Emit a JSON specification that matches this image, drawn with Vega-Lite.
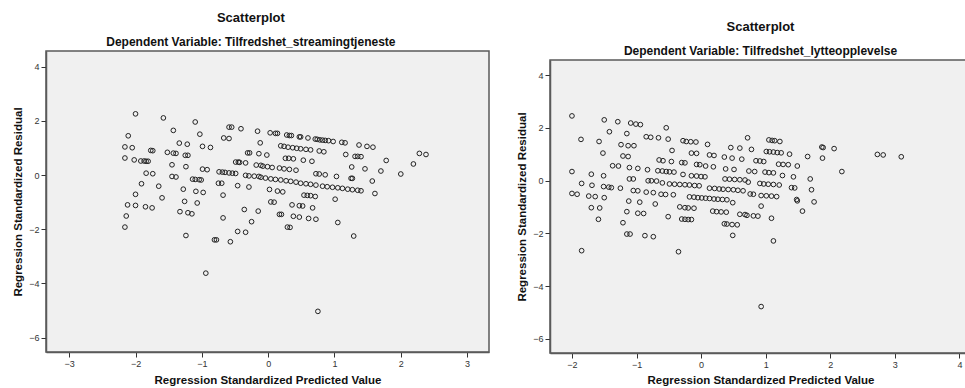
{
  "$schema": "https://vega.github.io/schema/vega-lite/v6.json",
  "padding": {"left": 11, "top": 10, "right": 0, "bottom": 0},
  "background": "white",
  "spacing": 25,
  "config": {
    "font": "Liberation Sans",
    "view": {"fill": "#f0f0f0", "stroke": "#5a5a5a", "strokeWidth": 1.5},
    "axis": {"grid": false, "domainColor": "#5a5a5a", "domainWidth": 1.5, "tickColor": "#333333", "tickSize": 5, "labelPadding": 2, "labelFontSize": 9, "labelColor": "#333333", "titleFontSize": 11.5, "titleFontWeight": "bold", "titleColor": "#111111"},
    "title": {"fontSize": 13, "fontWeight": "bold", "color": "#111111", "subtitleFontSize": 12, "subtitleFontWeight": "bold", "subtitleColor": "#111111", "subtitlePadding": 12, "offset": 3}
  },
  "datasets": {
    "none": [],
    "left": [
      {"x":-2.00,"y":2.26},{"x":-1.58,"y":2.11},{"x":-1.10,"y":1.96},{"x":-2.11,"y":1.45},{"x":-1.43,"y":1.65},{"x":-1.03,"y":1.51},{"x":-0.59,"y":1.77},{"x":-0.55,"y":1.77},{"x":-0.41,"y":1.71},{"x":-0.16,"y":1.62},
      {"x":-0.67,"y":1.37},{"x":-0.59,"y":1.35},{"x":-2.16,"y":1.04},{"x":-2.05,"y":1.01},{"x":-1.34,"y":1.18},{"x":-1.22,"y":1.14},{"x":-0.99,"y":1.06},{"x":-0.87,"y":1.02},{"x":-0.12,"y":1.19},{"x":-1.77,"y":0.91},
      {"x":-1.74,"y":0.90},{"x":-1.52,"y":0.84},{"x":-1.43,"y":0.81},{"x":-1.39,"y":0.80},{"x":-1.25,"y":0.73},{"x":-1.21,"y":0.73},{"x":-2.16,"y":0.63},{"x":-2.02,"y":0.56},{"x":-1.92,"y":0.52},{"x":-1.87,"y":0.52},
      {"x":-1.84,"y":0.51},{"x":-1.81,"y":0.51},{"x":-0.31,"y":0.82},{"x":-0.28,"y":0.82},{"x":-0.14,"y":0.79},{"x":-1.45,"y":0.38},{"x":-1.24,"y":0.31},{"x":-0.49,"y":0.48},{"x":-0.45,"y":0.48},{"x":-0.43,"y":0.47},
      {"x":-0.34,"y":0.45},{"x":-0.18,"y":0.37},{"x":-0.11,"y":0.36},{"x":-0.99,"y":0.22},{"x":-0.92,"y":0.20},{"x":-1.84,"y":0.07},{"x":-1.74,"y":0.05},{"x":-0.74,"y":0.12},{"x":-0.69,"y":0.11},{"x":-0.65,"y":0.10},
      {"x":-0.59,"y":0.08},{"x":-0.54,"y":0.07},{"x":-0.49,"y":0.06},{"x":-1.45,"y":-0.05},{"x":-1.39,"y":-0.07},{"x":-1.14,"y":-0.15},{"x":-1.10,"y":-0.16},{"x":-1.04,"y":-0.17},{"x":-1.01,"y":-0.18},{"x":-0.34,"y":-0.01},
      {"x":-0.29,"y":-0.03},{"x":-0.21,"y":-0.04},{"x":-0.14,"y":-0.05},{"x":-1.91,"y":-0.32},{"x":-1.65,"y":-0.41},{"x":-0.75,"y":-0.30},{"x":-0.70,"y":-0.30},{"x":-0.46,"y":-0.39},{"x":-0.29,"y":-0.44},{"x":-1.28,"y":-0.52},
      {"x":-1.09,"y":-0.60},{"x":-0.98,"y":-0.64},{"x":-2.00,"y":-0.71},{"x":-1.60,"y":-0.84},{"x":-0.68,"y":-0.74},{"x":-1.26,"y":-0.97},{"x":-1.07,"y":-1.03},{"x":-2.12,"y":-1.10},{"x":-2.00,"y":-1.12},{"x":-1.85,"y":-1.17},
      {"x":-1.75,"y":-1.21},{"x":-0.36,"y":-1.27},{"x":-0.15,"y":-1.33},{"x":-1.33,"y":-1.35},{"x":-1.21,"y":-1.39},{"x":-1.15,"y":-1.43},{"x":-2.14,"y":-1.51},{"x":-0.68,"y":-1.58},{"x":-0.25,"y":-1.72},{"x":-2.16,"y":-1.92},
      {"x":-0.46,"y":-2.08},{"x":-0.34,"y":-2.11},{"x":-1.24,"y":-2.23},{"x":-0.81,"y":-2.39},{"x":-0.78,"y":-2.39},{"x":-0.57,"y":-2.46},{"x":-0.94,"y":-3.62},{"x":0.75,"y":-5.03},{"x":1.29,"y":-2.25},{"x":1.05,"y":-1.75},
      {"x":0.72,"y":-1.63},{"x":0.61,"y":-1.60},{"x":0.47,"y":-1.55},{"x":0.38,"y":-1.52},{"x":0.20,"y":-1.45},{"x":0.17,"y":-1.45},{"x":0.33,"y":-1.93},{"x":0.29,"y":-1.92},{"x":0.67,"y":-1.21},{"x":0.52,"y":-1.14},
      {"x":0.47,"y":-1.13},{"x":0.36,"y":-1.10},{"x":0.03,"y":1.56},{"x":0.11,"y":1.54},{"x":0.14,"y":1.54},{"x":0.28,"y":1.48},{"x":0.32,"y":1.46},{"x":0.35,"y":1.46},{"x":0.47,"y":1.41},{"x":0.49,"y":1.41},
      {"x":0.60,"y":1.37},{"x":0.71,"y":1.33},{"x":0.74,"y":1.32},{"x":0.78,"y":1.30},{"x":0.82,"y":1.29},{"x":0.86,"y":1.28},{"x":0.91,"y":1.27},{"x":0.98,"y":1.24},{"x":1.11,"y":1.21},{"x":1.16,"y":1.19},
      {"x":1.37,"y":1.11},{"x":1.49,"y":1.06},{"x":1.58,"y":1.03},{"x":0.19,"y":1.08},{"x":0.24,"y":1.06},{"x":0.30,"y":1.03},{"x":0.37,"y":1.01},{"x":0.43,"y":0.99},{"x":0.49,"y":0.97},{"x":0.57,"y":0.95},
      {"x":0.64,"y":0.93},{"x":0.77,"y":0.89},{"x":0.84,"y":0.86},{"x":-0.02,"y":0.74},{"x":1.17,"y":0.76},{"x":1.31,"y":0.69},{"x":1.35,"y":0.69},{"x":1.40,"y":0.68},{"x":1.78,"y":0.54},{"x":2.28,"y":0.80},
      {"x":2.38,"y":0.76},{"x":0.26,"y":0.62},{"x":0.31,"y":0.62},{"x":0.38,"y":0.60},{"x":0.53,"y":0.55},{"x":0.66,"y":0.51},{"x":2.19,"y":0.41},{"x":-0.08,"y":0.33},{"x":-0.01,"y":0.31},{"x":0.06,"y":0.28},
      {"x":0.17,"y":0.26},{"x":0.24,"y":0.23},{"x":0.32,"y":0.21},{"x":0.42,"y":0.18},{"x":0.72,"y":0.05},{"x":0.77,"y":0.04},{"x":0.86,"y":0.01},{"x":1.03,"y":-0.05},{"x":1.26,"y":0.30},{"x":1.46,"y":0.23},
      {"x":1.70,"y":0.15},{"x":2.00,"y":0.04},{"x":1.25,"y":-0.12},{"x":1.27,"y":-0.12},{"x":1.57,"y":-0.22},{"x":-0.11,"y":-0.08},{"x":-0.04,"y":-0.11},{"x":0.04,"y":-0.14},{"x":0.11,"y":-0.16},{"x":0.19,"y":-0.18},
      {"x":0.27,"y":-0.21},{"x":0.34,"y":-0.23},{"x":0.42,"y":-0.26},{"x":0.49,"y":-0.30},{"x":0.57,"y":-0.32},{"x":0.64,"y":-0.34},{"x":0.72,"y":-0.37},{"x":0.82,"y":-0.41},{"x":0.89,"y":-0.43},{"x":0.97,"y":-0.45},
      {"x":1.05,"y":-0.47},{"x":1.12,"y":-0.49},{"x":1.20,"y":-0.52},{"x":1.27,"y":-0.54},{"x":1.35,"y":-0.56},{"x":1.40,"y":-0.58},{"x":1.61,"y":-0.68},{"x":0.02,"y":-0.53},{"x":0.14,"y":-0.59},{"x":0.22,"y":-0.62},
      {"x":0.54,"y":-0.74},{"x":0.59,"y":-0.75},{"x":0.64,"y":-0.76},{"x":0.71,"y":-0.79},{"x":1.01,"y":-0.89},{"x":0.04,"y":-0.99},{"x":0.09,"y":-1.00}
    ],
    "right": [
      {"x":-2.00,"y":2.45},{"x":-1.86,"y":1.56},{"x":-1.50,"y":2.30},{"x":-1.29,"y":2.23},{"x":-1.09,"y":2.18},{"x":-1.01,"y":2.14},{"x":-0.94,"y":2.12},{"x":-1.58,"y":1.48},{"x":-1.42,"y":1.85},{"x":-1.15,"y":1.78},
      {"x":-0.54,"y":2.00},{"x":-1.24,"y":1.36},{"x":-1.13,"y":1.32},{"x":-1.04,"y":1.32},{"x":-0.85,"y":1.66},{"x":-0.78,"y":1.64},{"x":-0.66,"y":1.62},{"x":-0.51,"y":1.57},{"x":-1.52,"y":1.04},{"x":-1.21,"y":0.93},
      {"x":-1.13,"y":0.91},{"x":-0.45,"y":1.14},{"x":-0.28,"y":1.51},{"x":-0.23,"y":1.48},{"x":-0.16,"y":1.47},{"x":-0.08,"y":1.46},{"x":0.10,"y":1.37},{"x":-0.15,"y":1.04},{"x":-0.07,"y":1.03},{"x":0.13,"y":0.97},
      {"x":0.20,"y":0.95},{"x":0.36,"y":0.89},{"x":0.48,"y":0.85},{"x":0.63,"y":0.81},{"x":0.46,"y":1.25},{"x":0.60,"y":1.23},{"x":-1.37,"y":0.56},{"x":-1.28,"y":0.55},{"x":-1.11,"y":0.49},{"x":-0.98,"y":0.46},
      {"x":-0.83,"y":0.41},{"x":-0.65,"y":0.78},{"x":-0.59,"y":0.75},{"x":-0.46,"y":0.72},{"x":-0.30,"y":0.68},{"x":-0.25,"y":0.67},{"x":-0.07,"y":0.61},{"x":-0.02,"y":0.60},{"x":0.07,"y":0.55},{"x":0.19,"y":0.52},
      {"x":0.38,"y":0.44},{"x":0.51,"y":0.42},{"x":-2.00,"y":0.34},{"x":-0.67,"y":0.37},{"x":-0.60,"y":0.36},{"x":-0.54,"y":0.34},{"x":-0.49,"y":0.33},{"x":-0.42,"y":0.32},{"x":-0.28,"y":0.23},{"x":-0.15,"y":0.18},
      {"x":-0.07,"y":0.17},{"x":0.00,"y":0.15},{"x":0.06,"y":0.14},{"x":0.37,"y":0.06},{"x":0.44,"y":0.05},{"x":0.52,"y":0.04},{"x":0.60,"y":0.03},{"x":0.68,"y":0.02},{"x":-1.70,"y":0.24},{"x":-1.51,"y":0.18},
      {"x":-1.11,"y":0.06},{"x":-1.05,"y":0.06},{"x":-0.82,"y":-0.01},{"x":-0.77,"y":-0.01},{"x":-0.69,"y":-0.02},{"x":-0.60,"y":-0.09},{"x":-0.49,"y":-0.13},{"x":-0.41,"y":-0.14},{"x":-0.33,"y":-0.15},{"x":-0.25,"y":-0.16},
      {"x":-0.18,"y":-0.17},{"x":-0.10,"y":-0.19},{"x":-0.03,"y":-0.20},{"x":0.13,"y":-0.29},{"x":0.21,"y":-0.30},{"x":0.28,"y":-0.32},{"x":0.34,"y":-0.33},{"x":0.42,"y":-0.34},{"x":0.50,"y":-0.35},{"x":0.57,"y":-0.37},
      {"x":0.65,"y":-0.39},{"x":-1.85,"y":-0.11},{"x":-1.69,"y":-0.18},{"x":-2.00,"y":-0.49},{"x":-1.92,"y":-0.52},{"x":-1.51,"y":-0.23},{"x":-1.43,"y":-0.25},{"x":-1.39,"y":-0.27},{"x":-1.25,"y":-0.29},{"x":-1.74,"y":-0.59},
      {"x":-1.64,"y":-0.61},{"x":-1.50,"y":-0.65},{"x":-1.05,"y":-0.38},{"x":-0.98,"y":-0.39},{"x":-0.85,"y":-0.44},{"x":-0.74,"y":-0.46},{"x":-0.62,"y":-0.52},{"x":-0.55,"y":-0.53},{"x":-0.43,"y":-0.54},{"x":-0.18,"y":-0.62},
      {"x":-0.11,"y":-0.63},{"x":-0.05,"y":-0.65},{"x":0.01,"y":-0.66},{"x":0.07,"y":-0.67},{"x":0.13,"y":-0.68},{"x":0.20,"y":-0.70},{"x":0.26,"y":-0.71},{"x":0.33,"y":-0.72},{"x":0.40,"y":-0.73},{"x":0.49,"y":-0.84},
      {"x":-1.12,"y":-0.78},{"x":-0.95,"y":-0.82},{"x":-0.71,"y":-0.89},{"x":-1.70,"y":-1.03},{"x":-1.57,"y":-1.04},{"x":-1.15,"y":-1.18},{"x":-0.98,"y":-1.24},{"x":-0.89,"y":-1.25},{"x":-0.33,"y":-1.00},{"x":-0.25,"y":-1.03},
      {"x":-0.20,"y":-1.04},{"x":-0.11,"y":-1.05},{"x":0.18,"y":-1.16},{"x":0.24,"y":-1.18},{"x":0.31,"y":-1.19},{"x":0.39,"y":-1.20},{"x":-1.59,"y":-1.47},{"x":-1.21,"y":-1.60},{"x":-0.51,"y":-1.37},{"x":-0.30,"y":-1.46},
      {"x":-0.25,"y":-1.47},{"x":-0.20,"y":-1.48},{"x":-0.15,"y":-1.48},{"x":0.60,"y":-1.28},{"x":0.68,"y":-1.29},{"x":0.36,"y":-1.64},{"x":0.40,"y":-1.65},{"x":0.48,"y":-1.67},{"x":0.56,"y":-1.68},{"x":0.49,"y":-2.08},
      {"x":-1.15,"y":-2.03},{"x":-1.10,"y":-2.03},{"x":-0.87,"y":-2.09},{"x":-0.74,"y":-2.13},{"x":-1.85,"y":-2.66},{"x":-0.35,"y":-2.70},{"x":0.93,"y":-4.78},{"x":1.12,"y":-2.29},{"x":1.09,"y":-1.43},{"x":1.57,"y":-1.16},
      {"x":0.93,"y":-0.97},{"x":0.71,"y":-1.32},{"x":0.81,"y":-1.34},{"x":0.88,"y":-1.35},{"x":1.75,"y":-0.81},{"x":1.49,"y":-0.77},{"x":0.72,"y":1.62},{"x":1.05,"y":1.54},{"x":1.10,"y":1.52},{"x":1.14,"y":1.51},
      {"x":1.22,"y":1.48},{"x":1.87,"y":1.27},{"x":1.89,"y":1.25},{"x":2.06,"y":1.21},{"x":2.73,"y":0.99},{"x":2.82,"y":0.97},{"x":3.10,"y":0.90},{"x":0.78,"y":1.18},{"x":1.01,"y":1.10},{"x":1.06,"y":1.09},
      {"x":1.12,"y":1.08},{"x":1.18,"y":1.06},{"x":1.24,"y":1.05},{"x":1.37,"y":1.00},{"x":1.65,"y":0.91},{"x":1.88,"y":0.85},{"x":0.85,"y":0.75},{"x":0.91,"y":0.74},{"x":0.97,"y":0.72},{"x":1.20,"y":0.62},
      {"x":1.27,"y":0.61},{"x":1.35,"y":0.60},{"x":1.49,"y":0.55},{"x":2.18,"y":0.34},{"x":0.74,"y":0.36},{"x":0.83,"y":0.34},{"x":0.99,"y":0.32},{"x":1.05,"y":0.30},{"x":1.12,"y":0.29},{"x":1.26,"y":0.19},
      {"x":1.43,"y":0.14},{"x":1.69,"y":0.06},{"x":0.73,"y":-0.06},{"x":0.91,"y":-0.11},{"x":0.97,"y":-0.13},{"x":1.04,"y":-0.14},{"x":1.12,"y":-0.15},{"x":1.21,"y":-0.17},{"x":1.40,"y":-0.27},{"x":1.45,"y":-0.28},
      {"x":1.71,"y":-0.35},{"x":0.76,"y":-0.51},{"x":0.81,"y":-0.52},{"x":0.93,"y":-0.57},{"x":1.01,"y":-0.58},{"x":1.09,"y":-0.59},{"x":1.17,"y":-0.61},{"x":1.48,"y":-0.72}
    ]
  },
  "hconcat": [
    {
      "spacing": 0,
      "vconcat": [
        {
          "width": 1,
          "height": 1,
          "view": {"fill": null, "stroke": null},
          "data": {"name": "none"},
          "mark": {"type": "point"}
        },
        {
          "width": 443,
          "height": 301,
          "title": {"text": "Scatterplot", "subtitle": "Dependent Variable: Tilfredshet_streamingtjeneste", "anchor": "middle", "frame": "bounds"},
          "data": {"name": "left"},
          "mark": {"type": "point", "shape": "circle", "filled": false, "stroke": "#222222", "strokeWidth": 1, "size": 22, "opacity": 1},
          "encoding": {
            "x": {"field": "x", "type": "quantitative", "scale": {"domain": [-3.35, 3.33], "nice": false, "zero": false},
                  "axis": {"values": [-3, -2, -1, 0, 1, 2, 3], "title": "Regression Standardized Predicted Value", "titlePadding": 6}},
            "y": {"field": "y", "type": "quantitative", "scale": {"domain": [-6.53, 4.58], "nice": false, "zero": false},
                  "axis": {"values": [-6, -4, -2, 0, 2, 4], "title": "Regression Standardized Residual", "titlePadding": 5}}
          }
        }
      ]
    },
    {
      "spacing": 0,
      "vconcat": [
        {
          "width": 1,
          "height": 10,
          "view": {"fill": null, "stroke": null},
          "data": {"name": "none"},
          "mark": {"type": "point"}
        },
        {
          "width": 421,
          "height": 293,
          "title": {"text": "Scatterplot", "subtitle": "Dependent Variable: Tilfredshet_lytteopplevelse", "anchor": "middle", "frame": "group"},
          "data": {"name": "right"},
          "mark": {"type": "point", "shape": "circle", "filled": false, "stroke": "#222222", "strokeWidth": 1, "size": 22, "opacity": 1},
          "encoding": {
            "x": {"field": "x", "type": "quantitative", "scale": {"domain": [-2.34, 4.18], "nice": false, "zero": false},
                  "axis": {"values": [-2, -1, 0, 1, 2, 3, 4], "title": "Regression Standardized Predicted Value", "titlePadding": 5}},
            "y": {"field": "y", "type": "quantitative", "scale": {"domain": [-6.54, 4.57], "nice": false, "zero": false},
                  "axis": {"values": [-6, -4, -2, 0, 2, 4], "title": "Regression Standardized Residual", "titlePadding": 5}}
          }
        }
      ]
    }
  ]
}
